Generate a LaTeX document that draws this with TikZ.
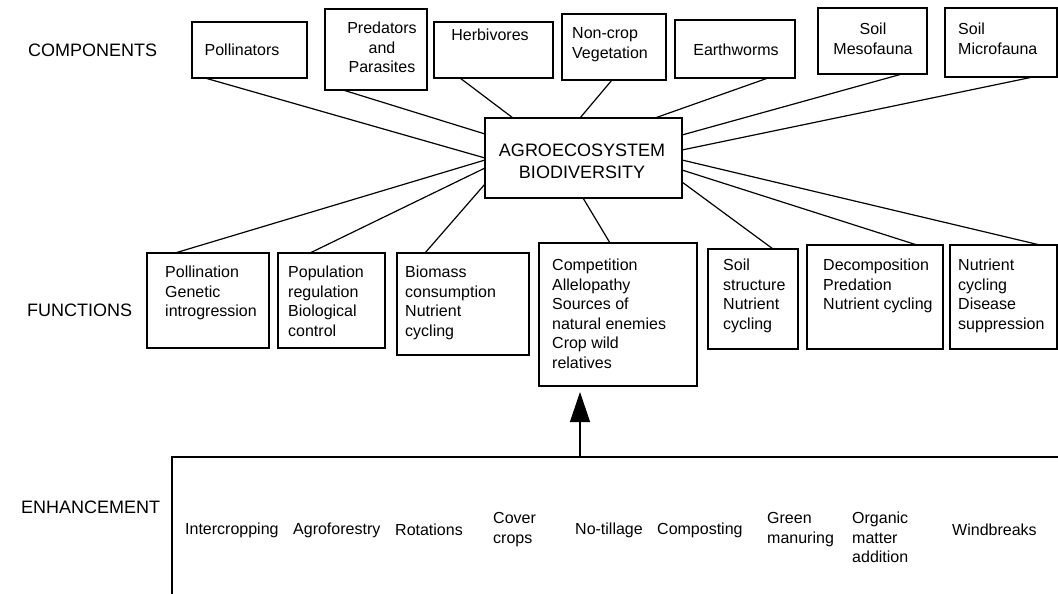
\documentclass[tikz,border=0pt]{standalone}
\usepackage{fontspec}
\setmainfont{Liberation Sans}
\usetikzlibrary{arrows.meta,calc}
\newcommand\fs{\fontsize{16}{19.5}\selectfont}
\newcommand\fl{\fontsize{18}{22}\selectfont}
\newcommand\boxnode[5]{\node[bx, minimum width={#4-#2}, minimum height={#5-#3}] (#1) at ({(#2+#4)/2},{(#3+#5)/2}) {};}
\begin{document}
\begin{tikzpicture}[x=1pt,y=-1pt,
  bx/.style={draw, line width=1.5pt, inner sep=0pt, outer sep=0pt},
  txt/.style={inner sep=0pt, font=\fs, align=left, anchor=north west},
  ctxt/.style={inner sep=0pt, font=\fs, align=center, anchor=north},
  one/.style={inner sep=0pt, font=\fs},
  head/.style={inner sep=0pt, font=\fl, anchor=west},
  link/.style={line width=1.2pt},
  up/.style={line width=1.2pt, -{Triangle[length=30pt,width=20pt]}}]
\useasboundingbox (0,0) rectangle (1058,594);
% row labels
\node[head] (lc) at (28,50) {COMPONENTS};
\node[head] (lf) at (27,310) {FUNCTIONS};
\node[head] (le) at (21,507) {ENHANCEMENT};
% centre
\boxnode{cen}{485}{118}{682}{198}
\node[inner sep=0pt, font=\fl, align=center] (cent) at (582,161) {AGROECOSYSTEM\\BIODIVERSITY};
% components
\boxnode{pol}{192}{22}{307}{78}
\boxnode{pre}{325}{9}{427}{90}
\boxnode{her}{434}{22}{553}{78}
\boxnode{non}{562}{14}{666}{80}
\boxnode{ear}{675}{20}{795}{78}
\boxnode{mes}{818}{8}{927}{74}
\boxnode{mic}{945}{8}{1057}{77}
\node[one] (tpol) at (242,50) {Pollinators};
\node[ctxt] (tpre) at (382,20) {\strut Predators\\and\\Parasites};
\node[one] (ther) at (490,35) {Herbivores};
\node[txt] (tnon) at (572,25) {\strut Non-crop\\Vegetation};
\node[one] (tear) at (736,50) {Earthworms};
\node[ctxt] (tmes) at (873,21) {\strut Soil\\Mesofauna};
\node[txt] (tmic) at (958,21) {\strut Soil\\Microfauna};
% component links
\draw[link] ([xshift=13pt]pol.south west) -- ([yshift=-11pt]cen.north west |- 0,147);
\draw[link] ([xshift=18pt]pre.south west) -- (cen.west |- 0,134);
\draw[link] ([xshift=26pt]her.south west) -- ([xshift=28pt]cen.north west);
\draw[link] ([xshift=50pt]non.south west) -- ([xshift=95pt]cen.north west);
\draw[link] ([xshift=93pt]ear.south west) -- ([xshift=170pt]cen.north west);
\draw[link] ([xshift=84pt]mes.south west) -- (cen.east |- 0,135);
\draw[link] ([xshift=88pt]mic.south west) -- (cen.east |- 0,150);
% functions
\boxnode{fa}{147}{253}{269}{348}
\boxnode{fb}{278}{253}{385}{348}
\boxnode{fc}{397}{253}{529}{355}
\boxnode{fd}{539}{243}{697}{386}
\boxnode{fe}{708}{249}{798}{349}
\boxnode{ff}{807}{245}{943}{349}
\boxnode{fg}{950}{245}{1057}{349}
\node[txt] (tfa) at (165,264) {\strut Pollination\\Genetic\\introgression};
\node[txt] (tfb) at (288,264) {\strut Population\\regulation\\Biological\\control};
\node[txt] (tfc) at (405,264) {\strut Biomass\\consumption\\Nutrient\\cycling};
\node[txt] (tfd) at (552,257) {\strut Competition\\Allelopathy\\Sources of\\natural enemies\\Crop wild\\relatives};
\node[txt] (tfe) at (723,257) {\strut Soil\\structure\\Nutrient\\cycling};
\node[txt] (tff) at (823,257) {\strut Decomposition\\Predation\\Nutrient cycling};
\node[txt] (tfg) at (958,257) {\strut Nutrient\\cycling\\Disease\\suppression};
% function links
\draw[link] (cen.west |- 0,160) -- ([xshift=28pt]fa.north west);
\draw[link] (cen.west |- 0,168) -- ([xshift=32pt]fb.north west);
\draw[link] (cen.west |- 0,184) -- ([xshift=28pt]fc.north west);
\draw[link] ([xshift=98pt]cen.south west) -- ([xshift=71pt]fd.north west);
\draw[link] (cen.east |- 0,182) -- ([xshift=65pt]fe.north west);
\draw[link] (cen.east |- 0,170) -- ([xshift=110pt]ff.north west);
\draw[link] (cen.east |- 0,160) -- ([xshift=90pt]fg.north west);
% enhancement
\boxnode{enh}{172}{457}{1075}{620}
\draw[up] ([xshift=408pt]enh.north west) -- ([xshift=41pt,yshift=-6pt]fd.south west);
\node[one, anchor=west] (e1) at (185,530) {Intercropping};
\node[one, anchor=west] (e2) at (293,530) {Agroforestry};
\node[one, anchor=west] (e3) at (395,530) {Rotations};
\node[txt] (e4) at (493,510) {\strut Cover\\crops};
\node[one, anchor=west] (e5) at (575,530) {No-tillage};
\node[one, anchor=west] (e6) at (657,530) {Composting};
\node[txt] (e7) at (767,510) {\strut Green\\manuring};
\node[txt] (e8) at (852,510) {\strut Organic\\matter\\addition};
\node[one, anchor=west] (e9) at (952,530) {Windbreaks};
\end{tikzpicture}
\end{document}
